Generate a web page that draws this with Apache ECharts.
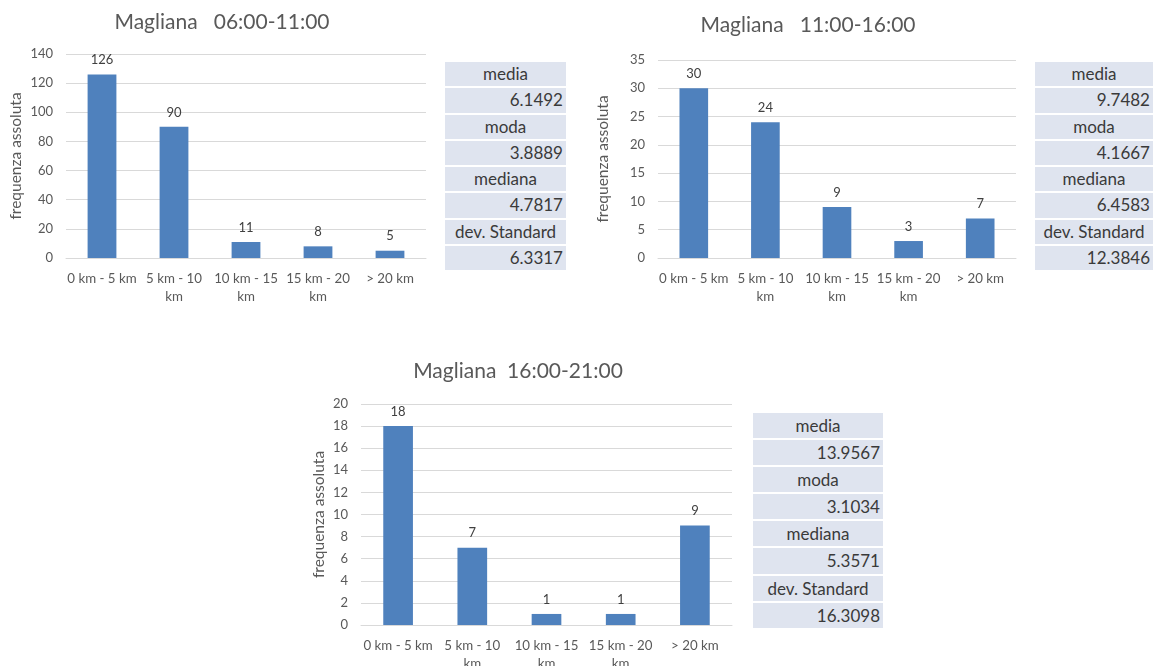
<!DOCTYPE html>
<html>
<head>
<meta charset="utf-8">
<script src="https://cdn.jsdelivr.net/npm/echarts@6/dist/echarts.min.js"></script>
<style>
  html, body { margin: 0; padding: 0; background: #fff; }
  #wrap { position: relative; width: 1157px; height: 666px; }
  #chart { position: absolute; left: 0; top: 0; width: 1157px; height: 666px; }
  .stats { position: absolute; font-family: Lato, "Liberation Sans", sans-serif; font-size: 17px; font-weight: 400; color: #3a3a3a; }
  .stats div { background: #dfe4ef; border-bottom: 2px solid #fff; box-sizing: border-box; padding: 0 3px; white-space: nowrap; }
  .stats .lab { text-align: center; }
  .stats .val { text-align: right; }
</style>
</head>
<body>
<div id="wrap">
  <div id="chart"></div>
</div>
<script>
// Distance classes and counts per time slot (Magliana)
const categories = ['0 km - 5 km', '5 km - 10 km', '10 km - 15 km', '15 km - 20 km', '> 20 km'];
const titles = ['Magliana   06:00-11:00', 'Magliana   11:00-16:00', 'Magliana  16:00-21:00'];
const counts0611 = [126, 90, 11, 8, 5];
const counts1116 = [30, 24, 9, 3, 7];
const counts1621 = [18, 7, 1, 1, 9];
const yMax = [140, 35, 20];
const yStep = [20, 5, 2];

// Summary statistics shown next to each chart
const statLabels = ['media', 'moda', 'mediana', 'dev. Standard'];
const stats0611 = ['6.1492', '3.8889', '4.7817', '6.3317'];
const stats1116 = ['9.7482', '4.1667', '6.4583', '12.3846'];
const stats1621 = ['13.9567', '3.1034', '5.3571', '16.3098'];

const FONT = 'Lato, "Liberation Sans", sans-serif';
const TXT = '#595959';

const layouts = [
  { grid: { left: 66, top: 54, width: 360, height: 204 }, titleX: 222, titleY: 12, nameGap: 42, stat: { left: 445, top: 62, width: 121, row: 26.3 } },
  { grid: { left: 658, top: 60, width: 358, height: 198 }, titleX: 808, titleY: 15, nameGap: 47, stat: { left: 1035, top: 62, width: 118, row: 26.3 } },
  { grid: { left: 361, top: 404, width: 371, height: 221 }, titleX: 518, titleY: 361, nameGap: 34, stat: { left: 753, top: 413, width: 130, row: 27.1 } }
];
const seriesData = [counts0611, counts1116, counts1621];
const statData = [stats0611, stats1116, stats1621];

function wrapLabel(v) {
  // long class names wrap their trailing unit onto a second line
  return v.length > 11 ? v.replace(/ km$/, '\nkm') : v;
}

const option = {
  animation: false,
  textStyle: { fontFamily: FONT },
  title: layouts.map((l, i) => ({
    text: titles[i], left: l.titleX, top: l.titleY, textAlign: 'center', padding: 0,
    textStyle: { fontFamily: FONT, fontSize: 21, fontWeight: 'normal', color: TXT }
  })),
  grid: layouts.map(l => Object.assign({ outerBoundsMode: 'none', containLabel: false }, l.grid)),
  xAxis: layouts.map((l, i) => ({
    type: 'category', gridIndex: i, data: categories,
    axisTick: { show: false },
    axisLine: { lineStyle: { color: '#d9d9d9', width: 1 } },
    axisLabel: { color: TXT, fontSize: 13.3, fontFamily: FONT, margin: 12, lineHeight: 18, interval: 0, formatter: wrapLabel }
  })),
  yAxis: layouts.map((l, i) => ({
    type: 'value', gridIndex: i, min: 0, max: yMax[i], interval: yStep[i],
    name: 'frequenza assoluta', nameLocation: 'middle', nameGap: l.nameGap, nameRotate: 90,
    nameTextStyle: { color: TXT, fontSize: 15.5, fontFamily: FONT },
    axisLine: { show: false }, axisTick: { show: false },
    axisLabel: { color: TXT, fontSize: 13, fontFamily: FONT, margin: 13 },
    splitLine: { lineStyle: { color: '#d9d9d9', width: 1 } }
  })),
  series: seriesData.map((d, i) => ({
    type: 'bar', xAxisIndex: i, yAxisIndex: i, data: d, barWidth: '40%',
    itemStyle: { color: '#4f81bd' },
    label: { show: true, position: 'top', distance: 8, color: '#404040', fontSize: 13, fontFamily: FONT }
  }))
};

const chart = echarts.init(document.getElementById('chart'), null, { renderer: 'canvas' });
chart.setOption(option);

// statistics tables
const wrap = document.getElementById('wrap');
layouts.forEach((l, i) => {
  const box = document.createElement('div');
  box.className = 'stats';
  box.style.left = l.stat.left + 'px';
  box.style.top = l.stat.top + 'px';
  box.style.width = l.stat.width + 'px';
  statLabels.forEach((lab, k) => {
    [[lab, 'lab'], [statData[i][k], 'val']].forEach(([t, c]) => {
      const cell = document.createElement('div');
      cell.className = c;
      cell.textContent = t;
      cell.style.height = l.stat.row + 'px';
      cell.style.lineHeight = (l.stat.row - 2) + 'px';
      box.appendChild(cell);
    });
  });
  wrap.appendChild(box);
});
</script>
</body>
</html>
